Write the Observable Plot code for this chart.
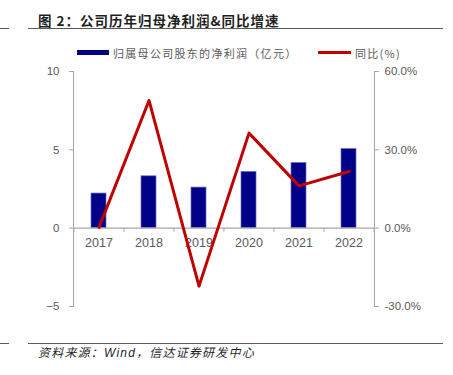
<!DOCTYPE html>
<html>
<head>
<meta charset="utf-8">
<script src="https://cdn.jsdelivr.net/npm/d3@7"></script>
<script src="https://cdn.jsdelivr.net/npm/@observablehq/plot@0.6"></script>
<style>
  html, body { margin: 0; padding: 0; background: #fff; }
  #wrap { position: relative; width: 453px; height: 375px; overflow: hidden; font-family: "Liberation Sans", Arial, "Noto Sans CJK SC", sans-serif; }
  #header { position: relative; height: 65px; }
  #footer { position: relative; height: 40px; }
  .abs { position: absolute; white-space: nowrap; }
  .rule { position: absolute; height: 1px; background: #5a5a5a; }
  #title { left: 38px; top: 11px; font-family: "Noto Sans CJK SC", sans-serif; font-weight: bold; font-size: 13.5px; line-height: 18px; color: #1f1f1f; letter-spacing: 1px; }
  .legtext { font-family: "Noto Sans CJK SC", sans-serif; font-size: 11px; line-height: 14px; color: #595959; letter-spacing: 1.3px; }
  #chart svg { display: block; }
  #source { left: 38px; top: 8px; font-family: "Liberation Sans", Arial, "Noto Sans CJK SC", sans-serif; font-style: italic; font-size: 12px; line-height: 16px; color: #1f1f1f; letter-spacing: 1.2px; }
</style>
</head>
<body>
<div id="wrap">
  <div id="header">
    <div class="rule" style="left:0px; width:9px; top:28px;"></div>
    <div class="rule" style="left:28px; width:415px; top:28px;"></div>
    <div id="title" class="abs">图 2：公司历年归母净利润&amp;同比增速</div>
    <div class="abs" style="left:77px; top:50px; width:32px; height:5px; background:#000088;"></div>
    <div class="abs legtext" style="left:113px; top:46px;">归属母公司股东的净利润（亿元）</div>
    <div class="abs" style="left:318px; top:51px; width:33px; height:3px; background:#c00000;"></div>
    <div class="abs legtext" style="left:355px; top:46px;">同比(%)</div>
  </div>
  <div id="chart"></div>
  <div id="footer">
    <div class="rule" style="left:0px; width:9px; top:8px;"></div>
    <div class="rule" style="left:28px; width:415px; top:8px;"></div>
    <div id="source" class="abs" style="top:10px;">资料来源：Wind，信达证券研发中心</div>
  </div>
</div>
<script>
const years = ["2017", "2018", "2019", "2020", "2021", "2022"];
const profit = [2.21, 3.31, 2.59, 3.59, 4.16, 5.05];   // 亿元
const yoy = [0.3, 48.9, -22.2, 36.4, 16.2, 21.7];      // %
const leftTicks = [-5, 0, 5, 10];
const rightTicks = [-30, 0, 30, 60];

const ratio = rightTicks[rightTicks.length - 1] / leftTicks[leftTicks.length - 1];
const data = years.map((y, i) => ({year: y, profit: profit[i], yoy: yoy[i]}));

const W = 453, H = 270, mL = 73, mR = 79, mT = 6, mB = 29;
const step = (W - mL - mR) / years.length;
const axisColor = "#a6a6a6";
const textColor = "#595959";

const chart = Plot.plot({
  width: W,
  height: H,
  marginLeft: mL,
  marginRight: mR,
  marginTop: mT,
  marginBottom: mB,
  style: {fontFamily: "Liberation Sans, Arial, sans-serif", background: "transparent", overflow: "visible"},
  x: {type: "band", domain: years, paddingInner: 0.7, paddingOuter: 0.35, axis: null},
  y: {domain: [leftTicks[0], leftTicks[leftTicks.length - 1]], axis: null},
  marks: [
    Plot.frame({anchor: "left", stroke: axisColor}),
    Plot.frame({anchor: "right", stroke: axisColor}),
    Plot.axisY({anchor: "left", ticks: leftTicks, tickSize: 4, tickPadding: 10, stroke: axisColor, fill: textColor, fontSize: 11.5, label: null}),
    Plot.axisY({anchor: "right", ticks: rightTicks.map(t => t / ratio), tickFormat: (d, i) => rightTicks[i].toFixed(1) + "%", tickSize: 4, tickPadding: 6, stroke: axisColor, fill: textColor, fontSize: 11.5, label: null}),
    Plot.barY(data, {x: "year", y: "profit", fill: "#000088", stroke: "#6e6ec4", strokeWidth: 0.7}),
    Plot.ruleY([0], {stroke: axisColor, strokeWidth: 1.2}),
    Plot.ruleX(years, {x: d => d, y1: 0, y2: -0.26, dx: -step / 2, stroke: axisColor}),
    Plot.ruleX(years.slice(-1), {x: d => d, y1: 0, y2: -0.26, dx: step / 2, stroke: axisColor}),
    Plot.text(data, {x: "year", y: 0, dy: 15, text: "year", fill: textColor, fontSize: 12.5}),
    Plot.line(data, {x: "year", y: d => d.yoy / ratio, stroke: "#c00000", strokeWidth: 3})
  ]
});
document.getElementById("chart").appendChild(chart);
</script>
</body>
</html>
